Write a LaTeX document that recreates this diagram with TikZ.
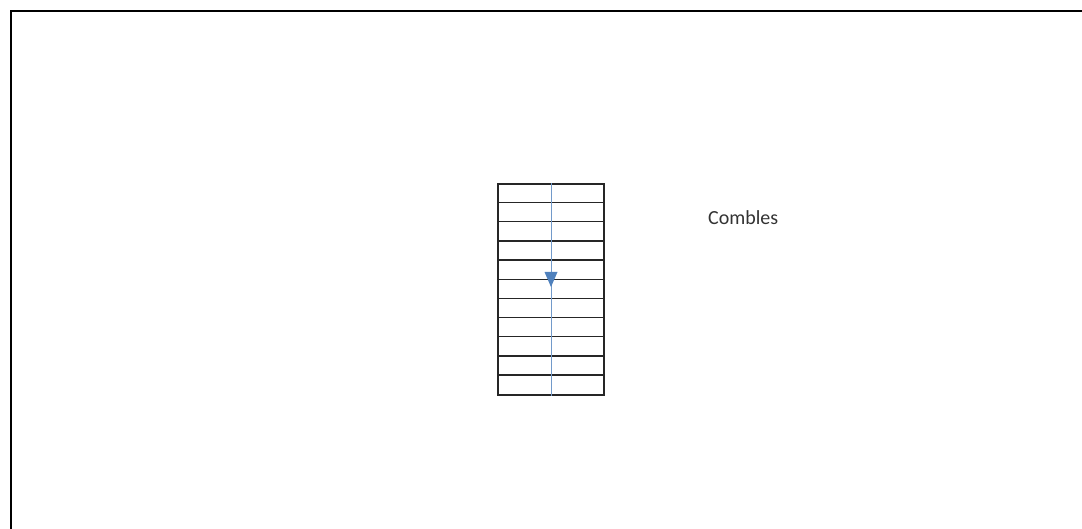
\documentclass[tikz,border=0pt]{standalone}
\usepackage{fontspec}
\setmainfont{Carlito}
\usetikzlibrary{arrows.meta}

\definecolor{officeblue}{RGB}{79,129,189}

\tikzset{
  plan-frame/.style={draw=black, line width=2.8pt},
  plan-stair/.style={rectangle, draw=black!85, line width=1.3pt, inner sep=0pt, minimum width=106pt, minimum height=211pt},
  plan-tread/.style={draw=black!85, line width=1.3pt},
  plan-run/.style={draw=officeblue!80, line width=1pt},
  plan-label/.style={font=\fontsize{20pt}{24pt}\selectfont, text=black!80, inner sep=0pt},
}

\begin{document}
\begin{tikzpicture}[x=1pt, y=-1pt]

    % Page extent
    \useasboundingbox (0,0) rectangle (1082,529);

    % Frame (runs off the right and bottom edges)
    \draw[plan-frame] (11,529) |- (1082,11);

    % Stair
    \node[plan-stair] (stair) at (551,289.5) {};
    \foreach \i in {1,...,10}
        \draw[plan-tread] ([yshift=-\i*19.18pt]stair.north west) -- ([yshift=-\i*19.18pt]stair.north east);

    % Walking line with direction
    \coordinate (runtip) at (551,287);
    \draw[plan-run] (stair.north) -- (runtip);
    \draw[plan-run] (runtip) -- (stair.south);
    \fill[officeblue] (544.5,272) -- (557.5,272) -- (runtip) -- cycle;

    % Label
    \node[plan-label, anchor=west] (combles) at (708,218) {Combles};

\end{tikzpicture}
\end{document}
